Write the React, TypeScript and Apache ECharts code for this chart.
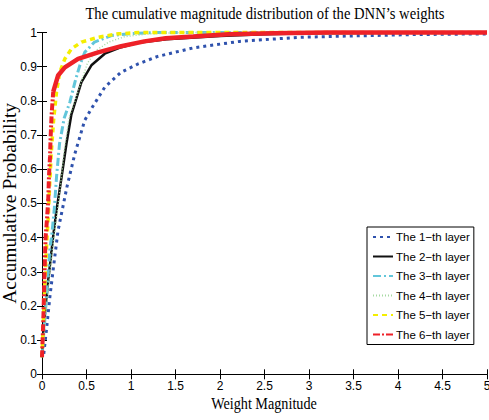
import React, { useEffect, useRef } from 'react';
import * as echarts from 'echarts';

const TITLE = 'The cumulative magnitude distribution of the DNN’s weights';
const X_NAME = 'Weight Magnitude';
const Y_NAME = 'Accumulative Probability';

const LAYER_NAMES = [
  'The 1−th layer',
  'The 2−th layer',
  'The 3−th layer',
  'The 4−th layer',
  'The 5−th layer',
  'The 6−th layer',
];

const X_MIN = 0, X_MAX = 5, X_STEP = 0.5;
const Y_MIN = 0, Y_MAX = 1, Y_STEP = 0.1;

const layer1X = [0.02, 0.05, 0.09, 0.125, 0.18, 0.28, 0.37, 0.48, 0.555, 0.705, 0.89, 1.08, 1.3, 1.7, 2.22, 2.89, 3.5, 4.2, 5];
const layer1Y = [0.06, 0.13, 0.23, 0.305, 0.42, 0.548, 0.646, 0.743, 0.777, 0.84, 0.884, 0.908, 0.93, 0.955, 0.974, 0.986, 0.99, 0.994, 0.996];

const layer2X = [0, 0.015, 0.07, 0.126, 0.163, 0.22, 0.275, 0.33, 0.443, 0.555, 0.705, 0.89, 1.08, 1.4, 2, 2.5, 3, 4, 5];
const layer2Y = [0.05, 0.13, 0.275, 0.405, 0.48, 0.577, 0.675, 0.76, 0.855, 0.904, 0.938, 0.957, 0.97, 0.98, 0.99, 0.995, 0.998, 0.999, 1];

const layer3X = [0, 0.05, 0.09, 0.107, 0.137, 0.163, 0.197, 0.25, 0.313, 0.37, 0.425, 0.48, 0.59, 0.78, 1.0, 1.3, 5];
const layer3Y = [0.05, 0.227, 0.373, 0.4, 0.48, 0.577, 0.675, 0.75, 0.796, 0.855, 0.904, 0.942, 0.972, 0.991, 0.997, 1, 1];

const layer4X = [0, 0.02, 0.07, 0.13, 0.17, 0.21, 0.25, 0.305, 0.37, 0.44, 0.51, 0.61, 0.75, 0.93, 1.2, 1.6, 5];
const layer4Y = [0.05, 0.1, 0.25, 0.39, 0.47, 0.558, 0.655, 0.753, 0.8, 0.855, 0.91, 0.948, 0.972, 0.988, 0.996, 1, 1];

const layer5X = [0, 0.01, 0.03, 0.056, 0.07, 0.085, 0.104, 0.13, 0.163, 0.2, 0.257, 0.33, 0.443, 0.63, 0.85, 1.1, 5];
const layer5Y = [0.05, 0.12, 0.256, 0.4, 0.46, 0.548, 0.646, 0.743, 0.826, 0.884, 0.923, 0.952, 0.972, 0.986, 0.996, 1, 1];

const layer6X = [0, 0.015, 0.026, 0.04, 0.055, 0.07, 0.078, 0.09, 0.097, 0.108, 0.126, 0.18, 0.257, 0.405, 0.63, 0.89, 1.15, 1.39, 1.7, 2.1, 2.6, 3.2, 5];
const layer6Y = [0.05, 0.159, 0.275, 0.4, 0.45, 0.51, 0.577, 0.636, 0.694, 0.76, 0.826, 0.874, 0.898, 0.923, 0.942, 0.96, 0.974, 0.983, 0.988, 0.995, 0.998, 1, 1];
const LAYER6_SOLID_FROM = 10; // index from which the red curve looks solid

const SANS = '"Liberation Sans", Arial, sans-serif';
const SERIF = '"Liberation Serif", "Times New Roman", serif';

const pairs = (xs: number[], ys: number[]) => xs.map((v, i) => [v, ys[i]]);

export default function App() {
  const ref = useRef<HTMLDivElement>(null);

  useEffect(() => {
    const chart = echarts.init(ref.current!, null, { renderer: 'svg' });

    const d6 = pairs(layer6X, layer6Y);
    const lineBase = { type: 'line', showSymbol: false, symbol: 'none', clip: false, xAxisIndex: 0, yAxisIndex: 0 };

    const series: any[] = [
      { ...lineBase, name: LAYER_NAMES[0], data: pairs(layer1X, layer1Y), lineStyle: { color: '#2f52ad', width: 3, type: [3, 4] }, itemStyle: { color: '#2f52ad' } },
      { ...lineBase, name: LAYER_NAMES[1], data: pairs(layer2X, layer2Y), lineStyle: { color: '#111111', width: 2.5, type: 'solid' }, itemStyle: { color: '#111111' } },
      { ...lineBase, name: LAYER_NAMES[2], data: pairs(layer3X, layer3Y), lineStyle: { color: '#62c6da', width: 3, type: [8, 3, 2, 3] }, itemStyle: { color: '#62c6da' } },
      { ...lineBase, name: LAYER_NAMES[3], data: pairs(layer4X, layer4Y), lineStyle: { color: '#a6d9a2', width: 1.5, type: [1, 2] }, itemStyle: { color: '#a6d9a2' } },
      { ...lineBase, name: LAYER_NAMES[4], data: pairs(layer5X, layer5Y), lineStyle: { color: '#f4ee00', width: 3.5, type: [5, 4] }, itemStyle: { color: '#f4ee00' } },
      { ...lineBase, name: LAYER_NAMES[5], data: d6.slice(0, LAYER6_SOLID_FROM + 1), lineStyle: { color: '#ee2128', width: 4, type: [7, 2, 2, 2] }, itemStyle: { color: '#ee2128' } },
      { ...lineBase, name: LAYER_NAMES[5], data: d6.slice(LAYER6_SOLID_FROM), lineStyle: { color: '#ee2128', width: 4.5, type: 'solid' }, itemStyle: { color: '#ee2128' } },
    ];

    const axisLine = { show: true, lineStyle: { color: '#000', width: 1 } };
    const axisTick = { show: true, inside: true, length: 5, lineStyle: { color: '#000', width: 1 } };
    const label = { color: '#000', fontFamily: SANS, fontSize: 12 };

    const option: any = {
      animation: false,
      backgroundColor: '#fff',
      grid: { left: 42, right: 2, top: 32.5, bottom: 45.7, containLabel: false, outerBoundsMode: 'none' },
      xAxis: [
        {
          type: 'value', min: X_MIN, max: X_MAX, interval: X_STEP, position: 'bottom',
          axisLine, axisTick, splitLine: { show: false },
          axisLabel: { ...label, margin: 6, formatter: (v: number) => String(v) },
        },
        {
          type: 'value', min: X_MIN, max: X_MAX, interval: X_STEP, position: 'top',
          axisLine, axisTick, splitLine: { show: false }, axisLabel: { show: false },
        },
      ],
      yAxis: [
        {
          type: 'value', min: Y_MIN, max: Y_MAX, interval: Y_STEP, position: 'left',
          axisLine, axisTick, splitLine: { show: false },
          axisLabel: { ...label, margin: 5, formatter: (v: number) => String(Math.round(v * 10) / 10) },
          name: Y_NAME, nameLocation: 'middle', nameRotate: 90, nameGap: 23, nameMoveOverlap: false,
          nameTextStyle: { color: '#000', fontFamily: SERIF, fontSize: 19.5 },
        },
        {
          type: 'value', min: Y_MIN, max: Y_MAX, interval: Y_STEP, position: 'right',
          axisLine, axisTick, splitLine: { show: false }, axisLabel: { show: false },
        },
      ],
      legend: {
        data: LAYER_NAMES,
        orient: 'vertical',
        left: 367,
        top: 227,
        padding: [4, 4, 4, 5],
        itemWidth: 20,
        itemHeight: 12,
        itemGap: 7.5,
        borderColor: '#000',
        borderWidth: 1,
        borderRadius: 0,
        backgroundColor: '#fff',
        selectedMode: false,
        itemStyle: { color: 'rgba(0,0,0,0)', borderWidth: 0, opacity: 0 },
        textStyle: { color: '#000', fontFamily: SANS, fontSize: 11.5, padding: [0, 0, 0, -2] },
      },
      graphic: [
        {
          type: 'text', x: 265, y: 13, scaleX: 0.86,
          style: { text: TITLE, font: `17px ${SERIF}`, fill: '#000', textAlign: 'center', verticalAlign: 'middle' },
        },
        {
          type: 'text', x: 264, y: 403, scaleX: 0.86,
          style: { text: X_NAME, font: `16.5px ${SERIF}`, fill: '#000', textAlign: 'center', verticalAlign: 'middle' },
        },
      ],
      series,
    };

    chart.setOption(option);
    return () => chart.dispose();
  }, []);

  return <div ref={ref} style={{ position: 'fixed', left: 0, top: 0, width: 489, height: 420 }} />;
}
